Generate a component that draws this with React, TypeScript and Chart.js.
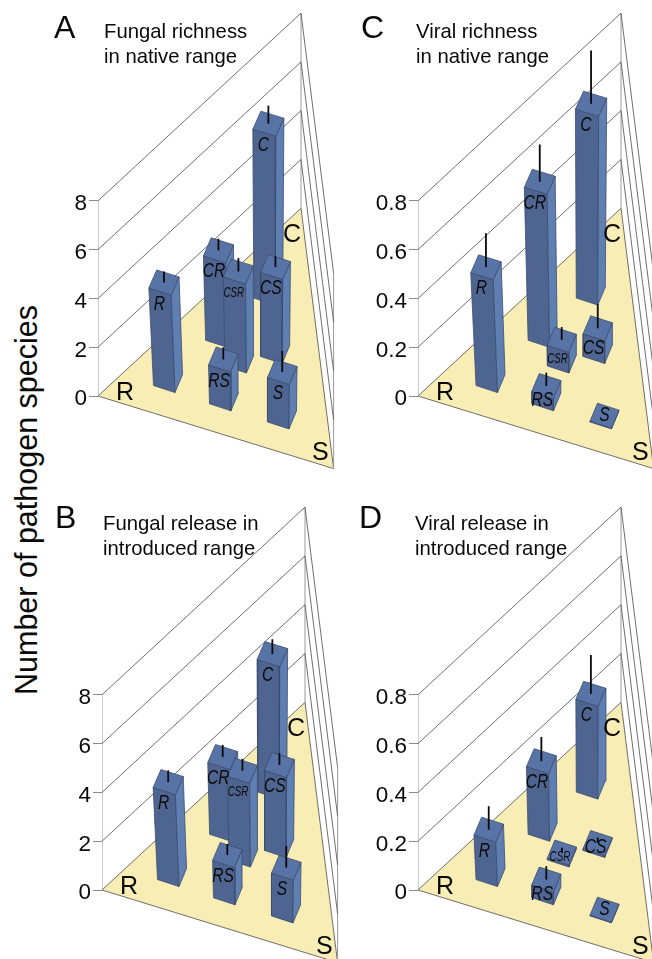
import React, { useEffect, useRef } from "react";
import { Chart, registerables } from "chart.js";

Chart.register(...registerables);

const FONT = '"Liberation Sans", Arial, sans-serif';

// Treatment groups, in painting order (back of the floor to front)
const groups = ["C", "CR", "CS", "CSR", "R", "RS", "S"];
// Position of each group on the triangular floor, as shares toward corners S and C
const towardS = [0.186, 0.178, 0.409, 0.328, 0.168, 0.409, 0.656];
const towardC = [0.623, 0.395, 0.398, 0.316, 0.15, 0.146, 0.145];

const fungalRichness = [6.92, 3.46, 3.44, 3.65, 4.0, 1.59, 1.82];
const fungalRichnessErr = [0.74, 0.48, 0.44, 0.55, 0.45, 0.5, 0.86];
const fungalRelease = [5.43, 2.94, 3.28, 3.43, 3.77, 1.53, 1.75];
const fungalReleaseErr = [0.61, 0.5, 0.48, 0.49, 0.48, 0.45, 0.89];
const viralRichness = [0.774, 0.627, 0.093, 0.085, 0.462, 0.05, 0.003];
const viralRichnessErr = [0.218, 0.153, 0.099, 0.052, 0.14, 0.055, 0];
const viralRelease = [0.38, 0.277, 0.008, 0.008, 0.182, 0.052, 0.003];
const viralReleaseErr = [0.159, 0.099, 0.023, 0.02, 0.096, 0.055, 0];

const fungalTicks = [0, 2, 4, 6, 8];
const viralTicks = [0, 0.2, 0.4, 0.6, 0.8];
const cornerNames = ["R", "C", "S"];

// Drawing geometry (screen layout of the oblique projection)
const AXIS_W = 54;
const CANVAS_W = 294;
const CANVAS_H = 480;
const ZERO_Y = 396;
const UNIT_PX = 235.6; // floor width R to S
const HEIGHT_PX = 195.2; // wall height
const S_CORNER = { u: 1, w: -72.6 / HEIGHT_PX };
const C_CORNER = { u: 203 / UNIT_PX, w: 187.7 / HEIGHT_PX };
const EDGE_A = { u: 21.5 / UNIT_PX, w: -7 / HEIGHT_PX };
const EDGE_B = { u: 7.5 / UNIT_PX, w: 18 / HEIGHT_PX };
const NADIR_U = 0.7186;
const LEAN = 0.082;

const FRONT = "#4E6591";
const SIDE = "#5F7EB2";
const TOP = "#5874A7";
const EDGE = "#3C4C6E";
const WALL = "#5F5F5F";
const WALL_LIGHT = "#9A9A9A";
const FLOOR = "#F9EDB6";

type P = { x: number; y: number };

function floorPoint(s: number, c: number) {
  return {
    u: s * S_CORNER.u + c * C_CORNER.u,
    w: s * S_CORNER.w + c * C_CORNER.w,
  };
}

function Panel(props: any) {
  const ref = useRef<HTMLCanvasElement | null>(null);
  const { top: topValue, ticks, values, errors, left, y, shift } = props;

  useEffect(() => {
    const toPoint = (u: number, w: number, n: number, lean: boolean): P => {
      const factor = lean ? 1 + LEAN * n : 1;
      const uu = lean ? NADIR_U + (u + shift - NADIR_U) * factor : u;
      return { x: uu, y: (w + n) * topValue };
    };
    const painted: any[] = [];
    const poly = (pts: P[], color: string, stroke: string, width: number) => {
      painted.push({
        data: [...pts, pts[0]],
        showLine: true,
        fill: "shape",
        backgroundColor: color,
        borderColor: stroke,
        borderWidth: width,
        pointRadius: 0,
        tension: 0,
      });
    };
    const line = (pts: P[], stroke: string, width: number) => {
      painted.push({
        data: pts,
        showLine: true,
        fill: false,
        borderColor: stroke,
        borderWidth: width,
        pointRadius: 0,
        tension: 0,
      });
    };

    const R = { u: 0, w: 0 };
    const S = S_CORNER;
    const C = C_CORNER;
    poly(
      [toPoint(R.u, R.w, 0, false), toPoint(S.u, S.w, 0, false), toPoint(C.u, C.w, 0, false)],
      FLOOR,
      WALL,
      0.9
    );
    line([toPoint(R.u, R.w, 0, false), toPoint(R.u, R.w, 1, false)], WALL_LIGHT, 1);
    line([toPoint(C.u, C.w, 0, false), toPoint(C.u, C.w, 1, false)], WALL_LIGHT, 1);
    line([toPoint(S.u, S.w, 0, false), toPoint(S.u, S.w, 1, false)], WALL_LIGHT, 1);
    ticks.forEach((t: number) => {
      if (t === 0) return;
      const n = t / topValue;
      line(
        [toPoint(R.u, R.w, n, false), toPoint(C.u, C.w, n, false), toPoint(S.u, S.w, n, false)],
        WALL,
        0.9
      );
    });

    const labels: any[] = [];
    groups.forEach((name, i) => {
      const v = values[i] / topValue;
      const f = floorPoint(towardS[i], towardC[i]);
      const corner = (a: number, b: number, n: number) =>
        toPoint(f.u + (a * EDGE_A.u + b * EDGE_B.u) / 2, f.w + (a * EDGE_A.w + b * EDGE_B.w) / 2, n, true);
      poly([corner(-1, -1, 0), corner(1, -1, 0), corner(1, -1, v), corner(-1, -1, v)], FRONT, EDGE, 0.8);
      poly([corner(1, -1, 0), corner(1, 1, 0), corner(1, 1, v), corner(1, -1, v)], SIDE, EDGE, 0.8);
      poly([corner(-1, -1, v), corner(1, -1, v), corner(1, 1, v), corner(-1, 1, v)], TOP, EDGE, 0.8);
      if (errors[i] > 0) {
        const n2 = v + errors[i] / topValue;
        const base = corner(0, 0, v);
        line([base, { x: base.x, y: (f.w + n2) * topValue }], "#0A0A0A", 1.8);
      }
      labels.push({ name, fl: corner(-1, -1, v), mid: corner(0, 0, v), v: values[i] });
    });

    const textPlugin = {
      id: "panelText",
      afterDatasetsDraw(chart: any) {
        const ctx = chart.ctx;
        const sx = chart.scales.x;
        const sy = chart.scales.y;
        ctx.save();
        ctx.fillStyle = "#0A0A0A";
        ctx.textBaseline = "alphabetic";
        ctx.textAlign = "left";
        ctx.font = `25px ${FONT}`;
        const rx = sx.getPixelForValue(0);
        const ry = sy.getPixelForValue(0);
        const offsets = [
          [18, 3.5],
          [185, -154.5],
          [214, 64],
        ];
        cornerNames.forEach((c, i) => ctx.fillText(c, rx + offsets[i][0], ry + offsets[i][1]));

        ctx.textAlign = "center";
        ctx.textBaseline = "middle";
        labels.forEach((l) => {
          const small = l.name === "CSR";
          const frontH = (l.v / topValue) * HEIGHT_PX;
          let x: number;
          let yy: number;
          if (frontH < 5) {
            x = sx.getPixelForValue(l.mid.x);
            yy = sy.getPixelForValue(l.mid.y);
            if (l.name !== "S") {
              x -= 2;
              yy += 4;
            }
          } else {
            x = sx.getPixelForValue(l.fl.x) + 10.5;
            yy = sy.getPixelForValue(l.fl.y) + Math.min(16, frontH * 0.5 + 3);
          }
          ctx.save();
          ctx.translate(x, yy);
          ctx.scale(small ? 0.65 : 0.78, 1);
          ctx.font = `italic ${small ? 15 : 20}px ${FONT}`;
          ctx.fillText(l.name, 0, 0);
          ctx.restore();
        });
        ctx.restore();
      },
    };

    const chart = new Chart(ref.current as HTMLCanvasElement, {
      type: "scatter",
      data: { datasets: painted.reverse() },
      plugins: [textPlugin],
      options: {
        animation: false,
        responsive: false,
        events: [],
        layout: { padding: 0 },
        plugins: { legend: { display: false }, tooltip: { enabled: false }, title: { display: false } },
        scales: {
          x: {
            type: "linear",
            display: false,
            min: 0,
            max: (CANVAS_W - AXIS_W) / UNIT_PX,
          },
          y: {
            type: "linear",
            min: (-topValue * (CANVAS_H - ZERO_Y)) / HEIGHT_PX,
            max: (topValue * ZERO_Y) / HEIGHT_PX,
            afterBuildTicks: (s: any) => {
              s.ticks = ticks.map((value: number) => ({ value }));
            },
            afterFit: (s: any) => {
              s.width = AXIS_W;
              s.paddingTop = 0;
              s.paddingBottom = 0;
            },
            border: { display: false },
            grid: { drawOnChartArea: false, drawTicks: true, tickLength: 9, color: "#8A8A8A", lineWidth: 1 },
            ticks: {
              padding: 2,
              color: "#0A0A0A",
              autoSkip: false,
              maxRotation: 0,
              // the empty first line, with a short line height, sets the numeral a little below its tick
              font: { family: FONT, size: 22.5, lineHeight: 0.28 },
              callback: (v: any) => ["", String(v)],
            },
          },
        },
      } as any,
    } as any);
    return () => chart.destroy();
  }, []);

  return (
    <canvas
      ref={ref}
      width={CANVAS_W}
      height={CANVAS_H}
      style={{ position: "absolute", left, top: y, width: CANVAS_W, height: CANVAS_H, display: "block" }}
    />
  );
}

const textBase: React.CSSProperties = {
  position: "absolute",
  fontFamily: FONT,
  color: "#0A0A0A",
  whiteSpace: "pre",
};

function Caption(props: { x: number; y: number; text: string }) {
  return <div style={{ ...textBase, left: props.x, top: props.y, fontSize: 20.3, lineHeight: "25px" }}>{props.text}</div>;
}

function Letter(props: { x: number; y: number; text: string }) {
  return <div style={{ ...textBase, left: props.x, top: props.y, fontSize: 32, lineHeight: "32px" }}>{props.text}</div>;
}

export default function App() {
  return (
    <div style={{ position: "fixed", left: 0, top: 0, width: 652, height: 959, overflow: "hidden", background: "#fff" }}>
      <Panel left={44} y={0} top={8} ticks={fungalTicks} values={fungalRichness} errors={fungalRichnessErr} shift={0} />
      <Panel left={364} y={0} top={0.8} ticks={viralTicks} values={viralRichness} errors={viralRichnessErr} shift={0.0106} />
      <Panel left={48} y={494} top={8} ticks={fungalTicks} values={fungalRelease} errors={fungalReleaseErr} shift={0} />
      <Panel left={364} y={494} top={0.8} ticks={viralTicks} values={viralRelease} errors={viralReleaseErr} shift={0.0106} />

      <Letter x={54} y={11} text="A" />
      <Letter x={361} y={11} text="C" />
      <Letter x={55} y={501} text="B" />
      <Letter x={359} y={501} text="D" />

      <Caption x={104} y={18.5} text={"Fungal richness\nin native range"} />
      <Caption x={416} y={18.5} text={"Viral richness\nin native range"} />
      <Caption x={103} y={511} text={"Fungal release in\nintroduced range"} />
      <Caption x={415} y={511} text={"Viral release in\nintroduced range"} />

      <div
        style={{
          ...textBase,
          left: 26.4,
          top: 500,
          fontSize: 30.5,
          transform: "translate(-50%, -50%) rotate(-90deg)",
        }}
      >
        Number of pathogen species
      </div>
    </div>
  );
}
